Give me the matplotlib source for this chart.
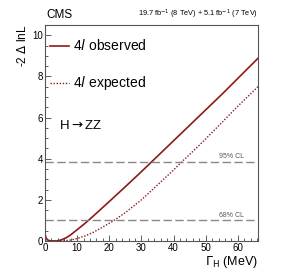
import matplotlib
matplotlib.use("Agg")
import matplotlib.pyplot as plt
from matplotlib.ticker import MultipleLocator

plt.rcParams['font.family'] = ['Liberation Sans', 'DejaVu Sans']

# values
gamma_obs = [0.0, 0.3, 0.8, 1.5, 2.5, 3.5, 5.0, 6.5, 8.0, 10.0, 12.0, 13.5, 16.0, 20.0,
             25.0, 30.0, 33.0, 36.0, 40.0, 45.0, 50.0, 55.0, 60.0, 66.3]
nll_obs = [0.35, 0.15, 0.05, 0.01, 0.0, 0.0, 0.05, 0.15, 0.3, 0.55, 0.8, 1.0, 1.35, 1.92,
           2.64, 3.37, 3.82, 4.27, 4.87, 5.62, 6.37, 7.12, 7.9, 8.88]
gamma_exp = [0.0, 2.0, 4.15, 6.0, 8.0, 10.0, 12.5, 15.0, 18.0, 21.5, 25.0, 30.0,
             35.0, 40.0, 42.5, 46.0, 49.5, 55.0, 60.0, 66.3]
nll_exp = [0.04, 0.01, 0.0, 0.01, 0.05, 0.12, 0.25, 0.42, 0.68, 1.0, 1.38, 2.0,
           2.72, 3.45, 3.84, 4.35, 4.88, 5.75, 6.55, 7.5]
cl_levels = [1.0, 3.84]
cl_labels = ["68% CL", "95% CL"]

red = "#8b1a1a"

fig = plt.figure(figsize=(2.87, 2.77), dpi=100)
ax = fig.add_axes([0.157, 0.130, 0.742, 0.780])

ax.plot(gamma_obs, nll_obs, color=red, lw=1.2)
ax.plot(gamma_exp, nll_exp, color=red, lw=1.0, ls=(0, (1, 1.2)))

for lev, lab in zip(cl_levels, cl_labels):
    ax.axhline(lev, color="#888888", lw=1.0, dashes=(6, 2.5))
    ax.text(58, lev + 0.08, lab, fontsize=5, color="#555555", ha="center", va="bottom")

ax.set_xlim(0, 66.3)
ax.set_ylim(0, 10.5)
ax.xaxis.set_major_locator(MultipleLocator(10))
ax.xaxis.set_minor_locator(MultipleLocator(2))
ax.yaxis.set_major_locator(MultipleLocator(2))
ax.yaxis.set_minor_locator(MultipleLocator(0.5))
ax.tick_params(which="both", direction="in", labelsize=7,
               pad=1.5, width=0.6, color="#444444")
ax.tick_params(which="major", length=4)
ax.tick_params(which="minor", length=2)
for s in ax.spines.values():
    s.set_linewidth(0.8)
    s.set_color("#555555")

ax.set_xlabel(r"$\Gamma_{\rm H}$ (MeV)", fontsize=9, loc="right", labelpad=1)
ax.set_ylabel(r"-2 $\Delta$ lnL", fontsize=8.5, loc="top", labelpad=2)

# legend drawn by hand in ROOT style
ax.plot([1.5, 7.5], [9.5, 9.5], color=red, lw=1.2)
ax.plot([1.5, 7.5], [7.7, 7.7], color=red, lw=1.0, ls=(0, (1, 1.2)))
ax.text(8.8, 9.5, r"4$\it{l}$ observed", fontsize=10, va="center")
ax.text(8.8, 7.7, r"4$\it{l}$ expected", fontsize=10, va="center")
ax.text(4.2, 5.6, r"H$\rightarrow$ZZ", fontsize=9.5, va="center")

fig.text(0.163, 0.925, "CMS", fontsize=8.5, va="bottom")
fig.text(0.899, 0.925, r"19.7 fb$^{-1}$ (8 TeV) + 5.1 fb$^{-1}$ (7 TeV)",
         fontsize=5.3, ha="right", va="bottom")

fig.savefig("out.png", dpi=100)
